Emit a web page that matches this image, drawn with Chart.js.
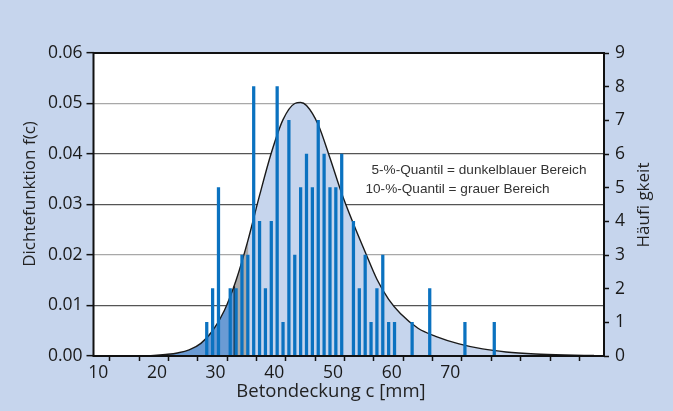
<!DOCTYPE html>
<html><head><meta charset="utf-8">
<style>html,body{margin:0;padding:0;background:#c6d5ed;overflow:hidden}#wrap{width:673px;height:411px;position:relative}</style>
<script src="https://cdn.jsdelivr.net/npm/chart.js@4/dist/chart.umd.min.js"></script>
</head><body><div id="wrap"><canvas id="c" width="673" height="411"></canvas></div>
<script>
// density curve f(c)
const curveX = [18,20,22,24,26,28,30,32,34,36,38,40,42,44,45,46,48,50,52,54,56,58,60,62,65,68,72,76,80,85,90,95];
const curveY = [0.0000,0.0001,0.0003,0.0006,0.0012,0.0025,0.0050,0.0090,0.0150,0.0228,0.0318,0.0402,0.0468,0.0500,0.0502,0.0496,0.0458,0.0392,0.0322,0.0262,0.0206,0.0152,0.0112,0.0084,0.0055,0.0039,0.0024,0.0014,0.0008,0.0004,0.0002,0.0001];
// quantiles
const q5X = 33.7, q5Y = 0.0138;
const q10X = 36.1, q10Y = 0.0232;
// histogram counts (Häufigkeit)
const barX = [29,30,31,33,34,35,36,37,38,39,40,41,42,43,44,45,46,47,48,49,50,51,52,54,55,56,57,58,59,60,61,64,67,73,78];
const barN = [1,2,5,2,2,3,3,8,4,2,4,8,1,7,3,5,6,5,7,6,5,5,6,4,2,3,1,2,3,1,1,1,2,1,1];
// ticks
const xTicks = [10,15,20,25,30,35,40,45,50,55,60,65,70,75,80,85,90,95];
const xLabels = [10,20,30,40,50,60,70];
const yTicks = [0,0.01,0.02,0.03,0.04,0.05,0.06];
const nTicks = [0,1,2,3,4,5,6,7,8,9];

const curve = curveX.map((x,i)=>({x:x,y:curveY[i]}));
const dark = curve.filter(p=>p.x<q5X).concat([{x:q5X,y:q5Y}]);
const gray = [{x:q5X,y:q5Y}].concat(curve.filter(p=>p.x>q5X&&p.x<q10X)).concat([{x:q10X,y:q10Y}]);
const bars = barX.map((x,i)=>({x:x,y:barN[i]}));

const BG = '#c6d5ed';
const FONT = "'Open Sans', sans-serif";

const deco = {
  id:'deco',
  beforeDraw(chart){
    const c = chart.ctx, a = chart.chartArea;
    c.save();
    c.fillStyle = BG; c.fillRect(0,0,chart.width,chart.height);
    c.fillStyle = '#ffffff'; c.fillRect(a.left,a.top,a.right-a.left,a.bottom-a.top);
    c.restore();
  },
  afterDraw(chart){
    const c = chart.ctx, a = chart.chartArea;
    c.save();
    c.strokeStyle = '#111'; c.lineWidth = 2;
    c.strokeRect(a.left,a.top,a.right-a.left,a.bottom-a.top);
    c.fillStyle = '#222';
    c.textAlign = 'center'; c.textBaseline = 'middle';
    c.font = "17px " + FONT;
    c.save(); c.translate(30,194); c.rotate(-Math.PI/2); c.fillText('Dichtefunktion f(c)',0,0); c.restore();
    c.save(); c.translate(644,205); c.rotate(-Math.PI/2); c.fillText('Häufi gkeit',0,0); c.restore();
    c.font = "18.5px " + FONT;
    c.fillText('Betondeckung c [mm]',331,392);
    c.textAlign = 'left'; c.fillStyle = '#333';
    c.font = "13.6px 'Liberation Sans', Arial, sans-serif";
    c.fillText('5-%-Quantil = dunkelblauer Bereich',371.5,170.5);
    c.fillText('10-%-Quantil = grauer Bereich',365.5,189.5);
    c.restore();
  }
};

new Chart(document.getElementById('c'), {
  type:'bar',
  data:{datasets:[
    {type:'line', data:curve, yAxisID:'y', borderWidth:0, borderColor:'rgba(0,0,0,0)', backgroundColor:'#c6d5ed', fill:'origin', pointRadius:0, cubicInterpolationMode:'monotone', order:6},
    {type:'line', data:dark, yAxisID:'y', borderWidth:0, borderColor:'rgba(0,0,0,0)', backgroundColor:'#6a9bd4', fill:'origin', pointRadius:0, cubicInterpolationMode:'monotone', order:5},
    {type:'line', data:gray, yAxisID:'y', borderWidth:0, borderColor:'rgba(0,0,0,0)', backgroundColor:'#a9a9a9', fill:'origin', pointRadius:0, cubicInterpolationMode:'monotone', order:4},
    {type:'line', data:[{x:q5X,y:0},{x:q5X,y:q5Y}], yAxisID:'y', borderWidth:1.5, borderColor:'#222', fill:false, pointRadius:0, order:3},
    {type:'line', data:curve, yAxisID:'y', borderWidth:1.4, borderColor:'#1a1a1a', fill:false, pointRadius:0, cubicInterpolationMode:'monotone', order:2},
    {type:'bar', data:bars, yAxisID:'yR', backgroundColor:'#0b72c0', barThickness:2.6, order:1}
  ]},
  options:{
    responsive:false, animation:false, devicePixelRatio:1,
    layout:{padding:{top:53,left:0,right:0,bottom:0}},
    plugins:{legend:{display:false}, tooltip:{enabled:false}},
    scales:{
      x:{type:'linear', min:9.7, max:96.7, offset:false,
        afterBuildTicks:s=>{s.ticks = xTicks.map(v=>({value:v}));},
        afterFit:s=>{s.height = 55;},
        grid:{drawOnChartArea:false, drawTicks:true, tickLength:5, tickColor:'#111', tickWidth:1.5},
        border:{display:false},
        ticks:{autoSkip:false, maxRotation:0, padding:2, labelOffset:3, color:'#1a1a1a', font:{family:FONT,size:17.5},
          callback:v=>xLabels.includes(v)?String(v):''}
      },
      y:{type:'linear', position:'left', min:0, max:0.06,
        afterBuildTicks:s=>{s.ticks = yTicks.map(v=>({value:v}));},
        afterFit:s=>{s.width = 93.5;},
        grid:{color:ctx=>{const v=ctx.tick?ctx.tick.value:0; return (Math.abs(v-0.05)<1e-6||Math.abs(v-0.02)<1e-6)?'#a8a8a8':'#555';}, lineWidth:1.3, tickLength:7, tickColor:'#111', tickWidth:1.5},
        border:{display:false},
        ticks:{padding:4, color:'#1a1a1a', font:{family:FONT,size:17.5}, callback:v=>Number(v).toFixed(2)}
      },
      yR:{type:'linear', position:'right', min:0, max:9,
        afterBuildTicks:s=>{s.ticks = nTicks.map(v=>({value:v}));},
        afterFit:s=>{s.width = 69;},
        grid:{drawOnChartArea:false, tickLength:5, tickColor:'#111', tickWidth:1.5},
        border:{display:false},
        ticks:{padding:6, color:'#1a1a1a', font:{family:FONT,size:17.5}}
      }
    }
  },
  plugins:[deco]
});
</script></body></html>
